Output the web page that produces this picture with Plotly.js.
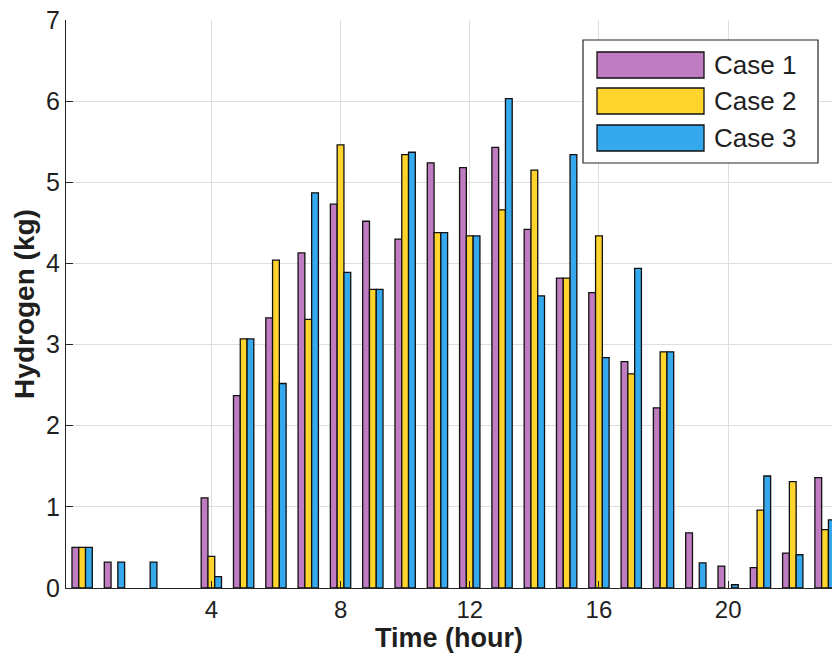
<!DOCTYPE html>
<html>
<head>
<meta charset="utf-8">
<script src="https://cdn.plot.ly/plotly-3.0.1.min.js"></script>
<style>
  html, body { margin: 0; padding: 0; background: #ffffff; }
  #chart { width: 832px; height: 665px; }
</style>
</head>
<body>
<div id="chart"></div>
<script>
// Hourly hydrogen production (kg) for three operating cases
const hours = [0, 1, 2, 3, 4, 5, 6, 7, 8, 9, 10, 11, 12, 13, 14, 15, 16, 17, 18, 19, 20, 21, 22, 23];
const case1 = [0.50, 0.32, 0, 0, 1.11, 2.37, 3.33, 4.13, 4.73, 4.52, 4.30, 5.24, 5.18, 5.43, 4.42, 3.82, 3.64, 2.79, 2.22, 0.68, 0.27, 0.25, 0.43, 1.36];
const case2 = [0.50, 0, 0, 0, 0.39, 3.07, 4.04, 3.31, 5.46, 3.68, 5.34, 4.38, 4.34, 4.66, 5.15, 3.82, 4.34, 2.64, 2.91, 0, 0, 0.96, 1.31, 0.72];
const case3 = [0.50, 0.32, 0.32, 0, 0.14, 3.07, 2.52, 4.87, 3.89, 3.68, 5.37, 4.38, 4.34, 6.03, 3.60, 5.34, 2.84, 3.94, 2.91, 0.31, 0.04, 1.38, 0.41, 0.84];

const seriesNames = ['Case 1', 'Case 2', 'Case 3'];
const seriesColors = ['#C07CC0', '#FFD42C', '#35A8EE'];
const xTickVals = [4, 8, 12, 16, 20];
const xTickText = ['4', '8', '12', '16', '20'];

const FONT = 'Liberation Sans, Arial, Helvetica, sans-serif';
const INK = '#1f1f1f';

const W = 832, H = 665;
const M = { l: 66, r: 0, t: 20, b: 77 };
const plotW = W - M.l - M.r, plotH = H - M.t - M.b;
// pixel -> paper helpers for the boxed legend
const px = v => (v - M.l) / plotW;
const py = v => (H - M.b - v) / plotH;

const values = [case1, case2, case3];
// hours with no production get no bar (avoids a flat outline on the baseline)
const traces = values.map((vals, i) => ({
  type: 'bar',
  name: seriesNames[i],
  x: hours,
  y: vals.map(v => (v === 0 ? null : v)),
  marker: { color: seriesColors[i], line: { color: '#111111', width: 1.3 } },
  showlegend: false,
  hoverinfo: 'x+y+name'
}));

// Legend drawn as a framed box with wide colour swatches
const shapes = [{
  type: 'rect', xref: 'paper', yref: 'paper',
  x0: px(583), x1: px(818), y0: py(163), y1: py(40),
  fillcolor: '#ffffff', line: { color: '#262626', width: 1.2 }, layer: 'above'
}];
const annotations = [];
const rowTops = [52, 88, 125];
const rowH = 26;
seriesNames.forEach((nm, i) => {
  shapes.push({
    type: 'rect', xref: 'paper', yref: 'paper',
    x0: px(597), x1: px(704), y0: py(rowTops[i] + rowH), y1: py(rowTops[i]),
    fillcolor: seriesColors[i], line: { color: '#111111', width: 1.3 }, layer: 'above'
  });
  annotations.push({
    xref: 'paper', yref: 'paper', x: px(712), y: py(rowTops[i] + rowH / 2),
    xanchor: 'left', yanchor: 'middle', showarrow: false,
    text: nm, font: { family: FONT, size: 26, color: INK }
  });
});

const layout = {
  width: W, height: H,
  margin: M,
  paper_bgcolor: '#ffffff',
  plot_bgcolor: '#ffffff',
  barmode: 'group',
  bargap: 0.37,
  bargroupgap: 0,
  font: { family: FONT, color: INK },
  xaxis: {
    range: [-0.5, -0.5 + plotW / 32.3],
    tickmode: 'array',
    tickvals: xTickVals,
    ticktext: xTickText,
    ticks: 'inside', ticklen: 7, tickwidth: 1, tickcolor: '#262626',
    showgrid: true, gridcolor: '#dedede', gridwidth: 1,
    showline: true, linecolor: '#262626', linewidth: 1.2,
    zeroline: false,
    tickfont: { family: FONT, size: 24, color: INK },
    title: { text: '<b>Time (hour)</b>', font: { family: FONT, size: 27, color: INK }, standoff: 5 }
  },
  yaxis: {
    range: [0, 7],
    dtick: 1,
    ticks: 'inside', ticklen: 7, tickwidth: 1, tickcolor: '#262626',
    showgrid: true, gridcolor: '#dedede', gridwidth: 1,
    showline: true, linecolor: '#262626', linewidth: 1.2,
    zeroline: false,
    tickfont: { family: FONT, size: 25, color: INK },
    title: { text: '<b>Hydrogen (kg)</b>', font: { family: FONT, size: 28, color: INK }, standoff: 3 }
  },
  shapes: shapes,
  annotations: annotations
};

Plotly.newPlot('chart', traces, layout, { displayModeBar: false, staticPlot: true });
</script>
</body>
</html>
